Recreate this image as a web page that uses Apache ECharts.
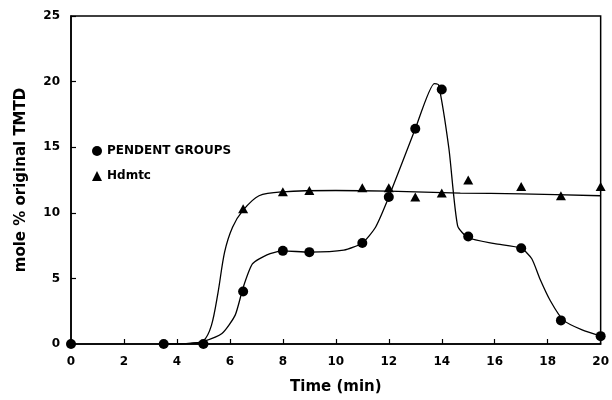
<!DOCTYPE html>
<html><head><meta charset="utf-8">
<script src="https://cdn.jsdelivr.net/npm/echarts@6/dist/echarts.min.js"></script>
<style>html,body{margin:0;padding:0;background:#fff}#c{width:612px;height:400px}</style>
</head><body><div id="c"></div>
<script>
// measured points
var pendX = [0, 3.5, 5, 6.5, 8, 9, 11, 12, 13, 14, 15, 17, 18.5, 20];
var pendY = [0, 0, 0, 4.0, 7.1, 7.0, 7.7, 11.2, 16.4, 19.4, 8.2, 7.3, 1.8, 0.6];
var hdX = [6.5, 8, 9, 11, 12, 13, 14, 15, 17, 18.5, 20];
var hdY = [10.3, 11.6, 11.7, 11.9, 11.9, 11.2, 11.5, 12.5, 12.0, 11.3, 12.0];
// fitted curves
var pendCurveX = [3.5, 4.5, 5.0, 5.7, 6.2, 6.5, 6.85, 7.4, 8.0, 9.0, 10.3, 11.0, 11.5, 12.0, 13.0, 13.72, 13.88, 14.27, 14.6, 15.0, 16.0, 17.0, 17.4, 17.7, 18.1, 18.6, 19.3, 20];
var pendCurveY = [0, 0.05, 0.2, 0.8, 2.2, 4.3, 6.1, 6.8, 7.1, 7.0, 7.15, 7.7, 8.9, 11.2, 16.4, 19.85, 19.75, 14.9, 9.0, 8.1, 7.65, 7.3, 6.5, 5.0, 3.3, 1.8, 1.07, 0.6];
var hdCurveX = [3.5, 4.5, 5.0, 5.3, 5.55, 5.8, 6.1, 6.5, 7.1, 8.0, 10, 12, 14.7, 17, 20];
var hdCurveY = [0, 0.05, 0.25, 1.4, 3.9, 7.0, 8.9, 10.2, 11.3, 11.6, 11.7, 11.65, 11.5, 11.45, 11.3];
var xTicks = [0, 20, 2];
var yTicks = [0, 25, 5];

function pairs(xs, ys) { return xs.map(function (x, i) { return [x, ys[i]]; }); }

var FONT = 'DejaVu Sans';
var chart = echarts.init(document.getElementById('c'));
chart.setOption({
  backgroundColor: '#fff',
  animation: false,
  grid: { left: 71, right: 10, top: 16, bottom: 56, show: true, borderColor: '#000', borderWidth: 1.5 },
  legend: {
    orient: 'vertical', left: 87, top: 140, itemWidth: 10, itemHeight: 10, itemGap: 13,
    textStyle: { fontFamily: FONT, fontWeight: 'bold', fontSize: 12, color: '#000' },
    data: [{ name: 'PENDENT GROUPS', icon: 'circle' }, { name: 'Hdmtc', icon: 'triangle' }]
  },
  xAxis: {
    type: 'value', min: xTicks[0], max: xTicks[1], interval: xTicks[2],
    name: 'Time (min)', nameLocation: 'middle', nameGap: 36,
    nameTextStyle: { fontFamily: FONT, fontWeight: 'bold', fontSize: 15, color: '#000' },
    axisLine: { lineStyle: { color: '#000', width: 1.5 } },
    axisTick: { inside: true, length: 5, lineStyle: { color: '#000', width: 1.2 } },
    axisLabel: { margin: 12, fontFamily: FONT, fontWeight: 'bold', fontSize: 12, color: '#000' },
    splitLine: { show: false }
  },
  yAxis: {
    type: 'value', min: yTicks[0], max: yTicks[1], interval: yTicks[2],
    name: 'mole % original TMTD', nameLocation: 'middle', nameGap: 42,
    nameTextStyle: { fontFamily: FONT, fontWeight: 'bold', fontSize: 15, color: '#000' },
    axisLine: { lineStyle: { color: '#000', width: 1.5 } },
    axisTick: { inside: true, length: 5, lineStyle: { color: '#000', width: 1.2 } },
    axisLabel: { margin: 11, fontFamily: FONT, fontWeight: 'bold', fontSize: 12, color: '#000' },
    splitLine: { show: false }
  },
  series: [
    { type: 'line', name: 'pendFit', data: pairs(pendCurveX, pendCurveY), smooth: 0.2,
      showSymbol: false, lineStyle: { color: '#000', width: 1.3 }, z: 2 },
    { type: 'line', name: 'hdFit', data: pairs(hdCurveX, hdCurveY), smooth: 0.3,
      showSymbol: false, lineStyle: { color: '#000', width: 1.3 }, z: 2 },
    { type: 'scatter', name: 'PENDENT GROUPS', data: pairs(pendX, pendY), symbol: 'circle', symbolSize: 10,
      itemStyle: { color: '#000', opacity: 1 }, z: 3 },
    { type: 'scatter', name: 'Hdmtc', data: pairs(hdX, hdY), symbol: 'triangle', symbolSize: [10, 9],
      itemStyle: { color: '#000', opacity: 1 }, z: 3 }
  ]
});
</script></body></html>
